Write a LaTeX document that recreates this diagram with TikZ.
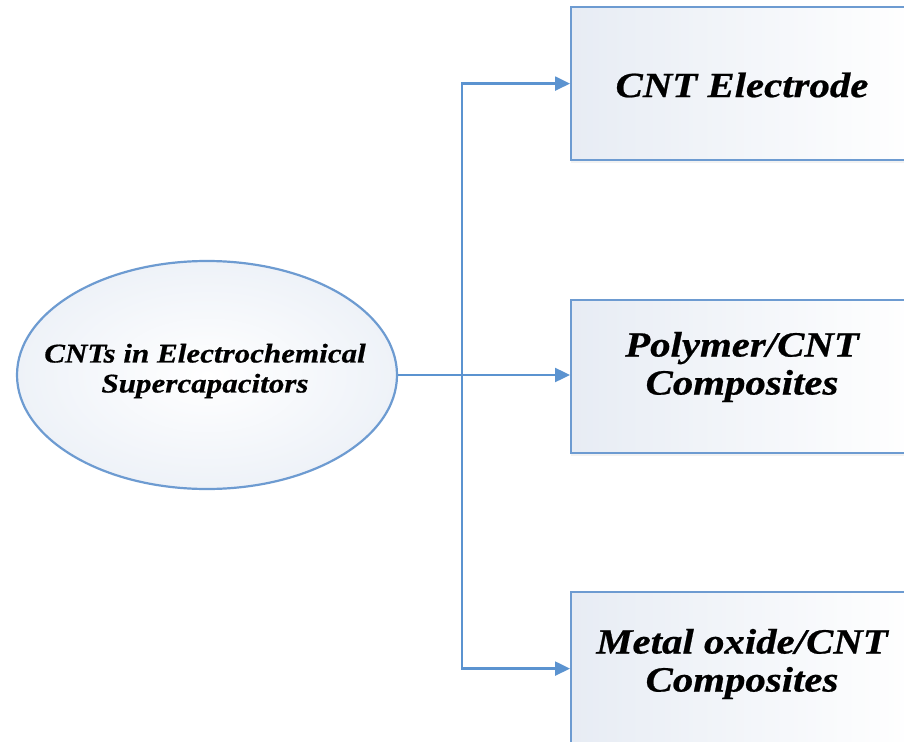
\documentclass[tikz,border=0pt]{standalone}
\usepackage{fontspec}
\newfontfamily\lbfont[FakeStretch=1.15,FakeBold=0.6]{Liberation Serif}
\usetikzlibrary{arrows.meta,shapes.geometric,shadows}
\definecolor{linkblue}{HTML}{5B93D0}
\definecolor{edgeblue}{HTML}{6D9BD1}
\definecolor{fillblue}{HTML}{E7ECF4}
\definecolor{ellfill}{HTML}{EEF2F8}
\begin{document}
\begin{tikzpicture}[x=1pt,y=-1pt,
  boxstyle/.style={draw=edgeblue, line width=2.2pt, rectangle,
    minimum width=344pt, minimum height=153pt, inner sep=0pt,
    left color=fillblue, right color=white, anchor=north west,
    drop shadow={opacity=0.10, shadow xshift=0pt, shadow yshift=-3pt}},
  rootstyle/.style={draw=edgeblue, line width=2.2pt, ellipse,
    minimum width=380pt, minimum height=228pt, inner sep=0pt,
    inner color=white, outer color=ellfill},
  boxtext/.style={align=center, font=\lbfont\bfseries\itshape\fontsize{35.5}{38}\selectfont, text=black},
  roottext/.style={align=center, font=\lbfont\bfseries\itshape\fontsize{27}{30}\selectfont, text=black},
  link/.style={draw=linkblue, line width=2.4pt},
  linkarrow/.style={link, -{Triangle[length=15pt,width=14pt]}}]
\useasboundingbox (0,0) rectangle (904,741);
\clip (0,0) rectangle (904,741);
\fill[white] (0,0) rectangle (904,741);

\node[rootstyle] (root) at (207,375) {};
\node[roottext] (roottxt) at (205,371) {CNTs in Electrochemical\\Supercapacitors};

\node[boxstyle] (box1) at (570,6) {};
\node[boxstyle] (box2) at (570,299) {};
\node[boxstyle] (box3) at (570,591) {};

\node[boxtext] (t1) at (742,85) {CNT Electrode};
\node[boxtext] (t2) at (742,367) {Polymer/CNT\\Composites};
\node[boxtext] (t3) at (742,664) {Metal oxide/CNT\\Composites};

\coordinate (hub) at (462,375);
\draw[linkarrow] (root.east) -- (box2.west |- root.east);
\draw[linkarrow] (hub) |- (box1.west);
\draw[linkarrow] (hub) |- (box3.west);
\end{tikzpicture}
\end{document}
